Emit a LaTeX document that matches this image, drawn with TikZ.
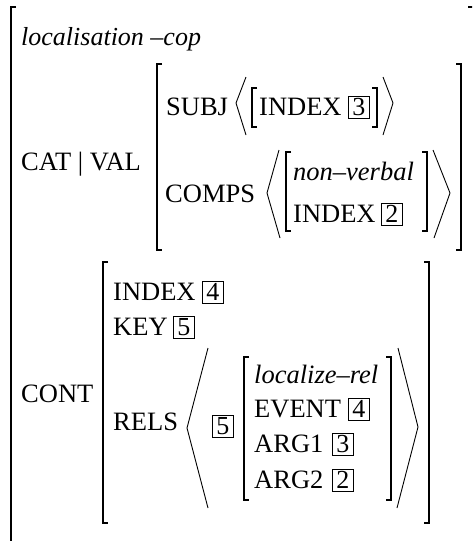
\documentclass[tikz,border=0pt]{standalone}
\usepackage{fontspec}
\setmainfont{Liberation Serif}
\tikzset{
  lbl/.style={anchor=base west, inner sep=0pt, font=\fontsize{26.5}{31}\selectfont},
  ilbl/.style={lbl, font=\fontsize{26.5}{31}\selectfont\itshape},
  tagbox/.style={draw, line width=0.8pt, anchor=base west, inner xsep=4pt, inner ysep=0pt,
     text height=19pt, text depth=3pt, font=\fontsize{26}{30}\selectfont},
  brk/.style={line width=1.9pt},
  ang/.style={line width=0.9pt, line join=miter},
}
\newcommand\lbrak[3]{\draw[brk] (#1+5,#2) -- (#1,#2) -- (#1,#3) -- (#1+5,#3);}
\newcommand\rbrak[3]{\draw[brk] (#1-5,#2) -- (#1,#2) -- (#1,#3) -- (#1-5,#3);}
\begin{document}
\begin{tikzpicture}[x=1pt,y=-1pt]
\useasboundingbox (0,0) rectangle (472,541);
\clip (0,0) rectangle (472,541);
% outer matrix
\draw[brk] (16,7) -- (11,7) -- (11,560);
\draw[brk] (468,7) -- (478,7) -- (478,560);
\node[ilbl, font=\fontsize{26}{30}\selectfont\itshape] (typ) at (21,45) {localisation –cop};
% CAT | VAL
\node[lbl] (catval) at (21,170) {CAT | VAL};
\lbrak{157}{64}{250}
\rbrak{461}{64}{250}
\node[lbl] (subj) at (166,115) {SUBJ};
\draw[ang] (246,77) -- (236,103) -- (246,135);
\lbrak{252}{88}{127}
\node[lbl] (sidx) at (259,115) {INDEX};
\node[tagbox] (t3a) at (348,115) {3};
\rbrak{377}{88}{127}
\draw[ang] (383,77) -- (393,103) -- (383,135);
\node[lbl] (comps) at (165,202) {COMPS};
\draw[ang] (279,150) -- (267,193) -- (280,238);
\lbrak{286}{152}{231}
\node[ilbl] (nonv) at (293,180) {non–verbal};
\node[lbl] (cidx) at (293,222) {INDEX};
\node[tagbox] (t2a) at (381,222) {2};
\rbrak{427}{152}{231}
\draw[ang] (433,150) -- (450,193) -- (434,238);
% CONT
\node[lbl] (cont) at (21,402) {CONT};
\lbrak{103}{262}{523}
\rbrak{429}{262}{523}
\node[lbl] (index) at (113,300) {INDEX};
\node[tagbox] (t4a) at (202,300) {4};
\node[lbl] (key) at (113,335) {KEY};
\node[tagbox] (t5a) at (173,335) {5};
\node[lbl] (rels) at (113,430) {RELS};
\draw[ang] (208,348) -- (187,428) -- (208,508);
\node[tagbox] (t5b) at (212,434) {5};
\lbrak{244}{357}{500}
\node[ilbl] (lrel) at (254,383) {localize–rel};
\node[lbl] (event) at (254,417) {EVENT};
\node[tagbox] (t4b) at (348,417) {4};
\node[lbl] (arg1) at (254,452) {ARG1};
\node[tagbox] (t3b) at (332,452) {3};
\node[lbl] (arg2) at (254,488) {ARG2};
\node[tagbox] (t2b) at (332,488) {2};
\rbrak{391}{357}{500}
\draw[ang] (398,348) -- (418,427) -- (397,508);
\end{tikzpicture}
\end{document}
